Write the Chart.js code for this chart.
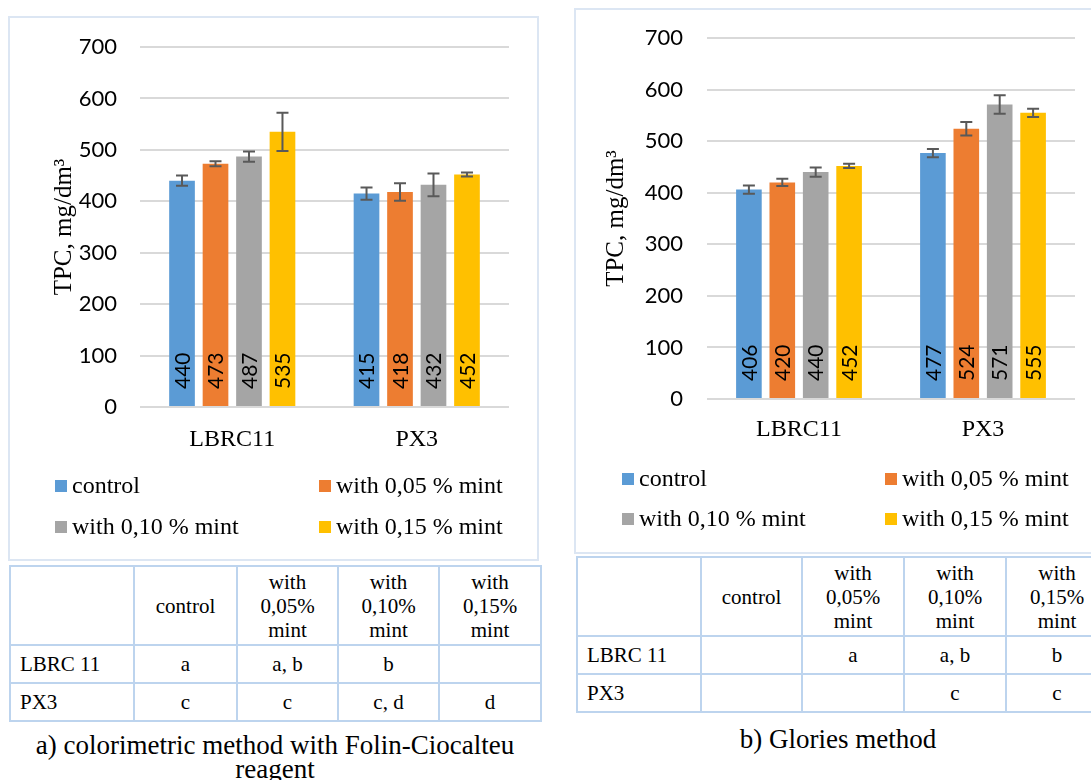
<!DOCTYPE html>
<html lang="en">
<head>
<meta charset="UTF-8">
<title>TPC, mg/dm³</title>
<script src="https://cdn.jsdelivr.net/npm/chart.js"></script>
<style>
    html, body { margin: 0; padding: 0; width: 1091px; height: 780px; overflow: hidden; background: #fff; }
    .box { position: absolute; border: 2px solid #dce6f3; background: #fff; }
    .box canvas { display: block; }
    .legend { position: absolute; font-family: "Liberation Serif", serif; font-size: 24px; color: #000; white-space: nowrap; line-height: 26px; }
    .legend span.sw { display: inline-block; width: 12px; height: 12px; margin-right: 5px; vertical-align: 1px; }
    table { position: absolute; border-collapse: collapse; table-layout: fixed; font-family: "Liberation Serif", serif; font-size: 21px; line-height: 24px; color: #000; }
    td { border: 2px solid #bdd4ee; text-align: center; padding: 0; }
    td.rowhead { text-align: left; padding-left: 9px; }
    .caption { position: absolute; font-family: "Liberation Serif", serif; font-size: 27px; line-height: 24px; text-align: center; color: #000; }
</style>
</head>
<body>

<div class="box" style="left: 8px; top: 16px; width: 527px; height: 541px;">
    <canvas id="chartFolin" width="527" height="541"></canvas>
</div>
<div id="legendFolin"></div>

<div class="box" style="left: 574px; top: 8px; width: 540px; height: 542px;">
    <canvas id="chartGlories" width="540" height="542"></canvas>
</div>
<div id="legendGlories"></div>

<table id="tableFolin" style="left: 9px; top: 565px;"></table>
<table id="tableGlories" style="left: 576px; top: 556px;"></table>

<div class="caption" style="left: 9px; top: 733px; width: 532px;">a) colorimetric method with Folin-Ciocalteu<br>reagent</div>
<div class="caption" style="left: 577px; top: 727px; width: 522px;">b) Glories method</div>

<script>
    // categories and series
    var categories = ['LBRC11', 'PX3'];
    var seriesLabels = ['control', 'with 0,05 % mint', 'with 0,10 % mint', 'with 0,15 % mint'];
    var seriesColors = ['#5b9bd5', '#ed7d31', '#a5a5a5', '#ffc000'];

    // a) Folin-Ciocalteu values (LBRC11, PX3)
    var folinControl = [440, 415];
    var folinMint005 = [473, 418];
    var folinMint010 = [487, 432];
    var folinMint015 = [535, 452];
    // error bars (+/-)
    var folinErrControl = [10, 12];
    var folinErrMint005 = [5, 17];
    var folinErrMint010 = [10, 22];
    var folinErrMint015 = [37, 4];

    // b) Glories values
    var gloriesControl = [406, 477];
    var gloriesMint005 = [420, 524];
    var gloriesMint010 = [440, 571];
    var gloriesMint015 = [452, 555];
    var gloriesErrControl = [8, 8];
    var gloriesErrMint005 = [7, 13];
    var gloriesErrMint010 = [9, 18];
    var gloriesErrMint015 = [4, 8];

    var yMin = 0, yMax = 700, yStep = 100;

    // tables of significance letters
    var tableHeader = ['', 'control', 'with<br>0,05%<br>mint', 'with<br>0,10%<br>mint', 'with<br>0,15%<br>mint'];
    var tableRowNames = ['LBRC 11', 'PX3'];
    var folinLetters = [['a', 'a, b', 'b', ''], ['c', 'c', 'c, d', 'd']];
    var gloriesLetters = [['', 'a', 'a, b', 'b'], ['', '', 'c', 'c']];

    // error bars drawn over each bar
    var errorBarPlugin = {
        id: 'errorBars',
        afterDatasetsDraw: function (chart) {
            var ctx = chart.ctx;
            var yScale = chart.scales.y;
            ctx.save();
            ctx.strokeStyle = '#595959';
            ctx.lineWidth = 2;
            chart.data.datasets.forEach(function (ds, i) {
                var meta = chart.getDatasetMeta(i);
                meta.data.forEach(function (bar, j) {
                    var v = ds.data[j], e = ds.errors[j];
                    var yt = yScale.getPixelForValue(v + e);
                    var yb = yScale.getPixelForValue(v - e);
                    ctx.beginPath();
                    ctx.moveTo(bar.x, yt); ctx.lineTo(bar.x, yb);
                    ctx.moveTo(bar.x - 6, yt); ctx.lineTo(bar.x + 6, yt);
                    ctx.moveTo(bar.x - 6, yb); ctx.lineTo(bar.x + 6, yb);
                    ctx.stroke();
                });
            });
            ctx.restore();
        }
    };

    // rotated value labels at the base of the bars
    var valueLabelPlugin = {
        id: 'valueLabels',
        afterDatasetsDraw: function (chart) {
            var ctx = chart.ctx;
            ctx.save();
            ctx.fillStyle = '#000';
            ctx.font = '21px Lato';
            ctx.textAlign = 'left';
            ctx.textBaseline = 'middle';
            chart.data.datasets.forEach(function (ds, i) {
                chart.getDatasetMeta(i).data.forEach(function (bar, j) {
                    ctx.save();
                    ctx.translate(bar.x, bar.base - 17);
                    ctx.rotate(-Math.PI / 2);
                    ctx.fillText(String(ds.data[j]), 0, 1);
                    ctx.restore();
                });
            });
            ctx.restore();
        }
    };

    function makeChart(id, values, errors, lay) {
        var datasets = values.map(function (vals, i) {
            return {
                label: seriesLabels[i],
                data: vals,
                errors: errors[i],
                backgroundColor: seriesColors[i],
                borderWidth: 0,
                categoryPercentage: 0.726,
                barPercentage: 0.767
            };
        });
        return new Chart(document.getElementById(id), {
            type: 'bar',
            data: { labels: categories, datasets: datasets },
            options: {
                responsive: false,
                animation: false,
                devicePixelRatio: 1,
                layout: { padding: { left: 0, right: lay.right, top: lay.top, bottom: lay.bottom } },
                plugins: { legend: { display: false }, tooltip: { enabled: false } },
                scales: {
                    x: {
                        grid: { display: false },
                        border: { display: false },
                        ticks: { color: '#000', padding: lay.xPad, font: { family: 'Liberation Serif', size: 24 } },
                        afterFit: function (s) { s.height = 60; }
                    },
                    y: {
                        min: yMin, max: yMax,
                        grid: { color: '#d9d9d9', lineWidth: 2, drawTicks: false },
                        border: { display: false },
                        ticks: { stepSize: yStep, color: '#000', padding: lay.tickPad, font: { family: 'Lato', size: 22 } },
                        title: {
                            display: true, text: 'TPC, mg/dm³', color: '#000',
                            font: { family: 'Liberation Serif', size: 25 },
                            padding: { top: lay.titlePad, bottom: 0 }
                        },
                        afterFit: function (s) {
                            s.width = lay.yWidth;
                            // keep the tick padding from pushing the plot area down
                            s.paddingTop = 10;
                            s.paddingBottom = 10;
                        }
                    }
                }
            },
            plugins: [errorBarPlugin, valueLabelPlugin]
        });
    }

    function makeLegend(id, cols, rows) {
        var html = '';
        seriesLabels.forEach(function (lab, i) {
            var x = cols[i % 2], y = rows[Math.floor(i / 2)];
            html += '<div class="legend" style="left:' + x + 'px; top:' + (y - 13) + 'px;">' +
                '<span class="sw" style="background:' + seriesColors[i] + '"></span>' + lab + '</div>';
        });
        document.getElementById(id).innerHTML = html;
    }

    function makeTable(id, letters, colWidths) {
        var html = '<colgroup>';
        colWidths.forEach(function (w) { html += '<col style="width:' + w + 'px">'; });
        html += '</colgroup><tr style="height:79px">';
        tableHeader.forEach(function (h) { html += '<td>' + h + '</td>'; });
        html += '</tr>';
        tableRowNames.forEach(function (name, r) {
            html += '<tr style="height:38px"><td class="rowhead">' + name + '</td>';
            letters[r].forEach(function (l) { html += '<td>' + l + '</td>'; });
            html += '</tr>';
        });
        var t = document.getElementById(id);
        t.innerHTML = html;
        t.style.width = colWidths.reduce(function (a, b) { return a + b; }, 0) + 'px';
    }

    makeChart('chartFolin',
        [folinControl, folinMint005, folinMint010, folinMint015],
        [folinErrControl, folinErrMint005, folinErrMint010, folinErrMint015],
        { right: 28, top: 29, bottom: 92, yWidth: 130, tickPad: 23, titlePad: 39, xPad: 10 });
    makeChart('chartGlories',
        [gloriesControl, gloriesMint005, gloriesMint010, gloriesMint015],
        [gloriesErrControl, gloriesErrMint005, gloriesErrMint010, gloriesErrMint015],
        { right: 41, top: 28, bottom: 93, yWidth: 131, tickPad: 24, titlePad: 25, xPad: 8 });

    makeLegend('legendFolin', [55, 319], [485, 526]);
    makeLegend('legendGlories', [622, 885], [478, 518]);

    makeTable('tableFolin', folinLetters, [124, 103, 101, 101, 102]);
    makeTable('tableGlories', gloriesLetters, [124, 101, 102, 102, 102]);
</script>
</body>
</html>
